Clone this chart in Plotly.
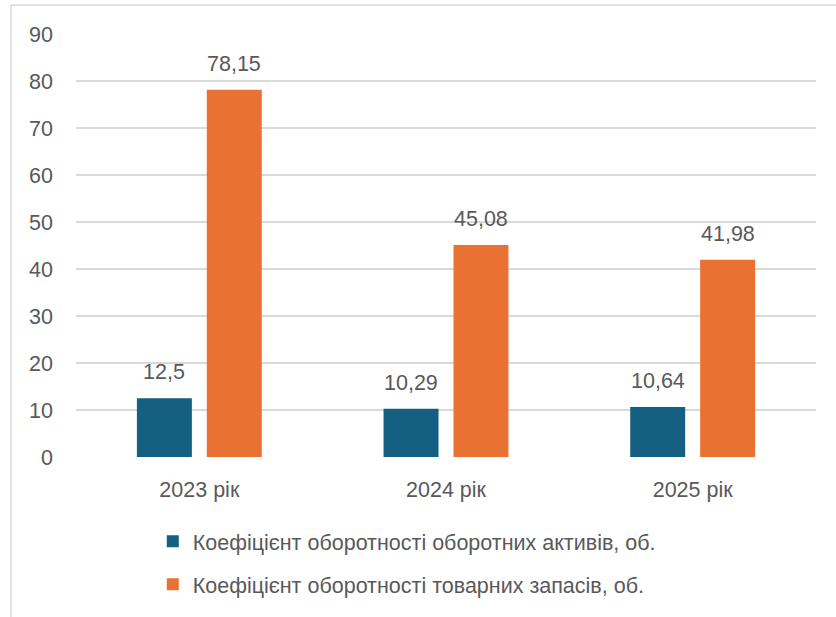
import plotly.graph_objects as go

categories = ["2023 рік", "2024 рік", "2025 рік"]
series_names = ["Коефіцієнт оборотності оборотних активів, об.",
                "Коефіцієнт оборотності товарних запасів, об."]
assets_turnover = [12.5, 10.29, 10.64]
inventory_turnover = [78.15, 45.08, 41.98]
y_ticks = [0, 10, 20, 30, 40, 50, 60, 70, 80, 90]

colors = ["#156082", "#E97132"]
text_color = "#595959"
font_family = "Liberation Sans, Arial, sans-serif"
fs = 21.5

def fmt(v):
    return str(v).replace(".", ",")

fig = go.Figure()
for i, (name, vals) in enumerate(zip(series_names, [assets_turnover, inventory_turnover])):
    fig.add_trace(go.Bar(
        x=categories, y=vals, name=name,
        marker=dict(color=colors[i], line=dict(width=0)),
        legendgroup=f"g{i}",
    ))

annotations = []
for i, vals in enumerate([assets_turnover, inventory_turnover]):
    shift = -35 if i == 0 else 35
    for c, v in zip(categories, vals):
        annotations.append(dict(
            x=c, y=v, xref="x", yref="y", text=fmt(v), showarrow=False,
            xshift=shift, yshift=26, yanchor="middle",
            font=dict(size=fs, color=text_color, family=font_family),
        ))

shapes = [
    dict(type="line", xref="paper", yref="paper", x0=-0.0878, x1=-0.0878,
         y0=1.0686, y1=-0.5, line=dict(color="#d9d9d9", width=1.5)),
    dict(type="line", xref="paper", yref="paper", x0=-0.0878, x1=1.1,
         y0=1.0686, y1=1.0686, line=dict(color="#d9d9d9", width=1.5)),
]

fig.update_layout(
    width=836, height=617,
    margin=dict(l=76, r=20, t=34, b=160, autoexpand=False),
    paper_bgcolor="white", plot_bgcolor="white",
    font=dict(family=font_family, size=fs, color=text_color),
    barmode="group", bargap=0.433, bargroupgap=0.214,
    showlegend=True,
    legend=dict(orientation="v", x=0.447, xanchor="center", y=-0.151, yanchor="top",
                font=dict(size=fs, color=text_color), tracegroupgap=12,
                itemwidth=30),
    annotations=annotations,
    shapes=shapes,
)
fig.update_xaxes(showgrid=False, showline=False, ticks="", ticklabelstandoff=17,
                 automargin=False, tickfont=dict(size=fs, color=text_color))
fig.update_yaxes(range=[0, 90], tickvals=y_ticks, showgrid=True, gridcolor="#d9d9d9",
                 gridwidth=1.5, zeroline=False, showline=False, ticks="",
                 automargin=False,
                 ticklabelstandoff=22, tickfont=dict(size=fs, color=text_color))

fig.write_html("out.html", config={"displayModeBar": False},
               post_script="document.body.style.margin='0';document.body.style.overflow='hidden';")
